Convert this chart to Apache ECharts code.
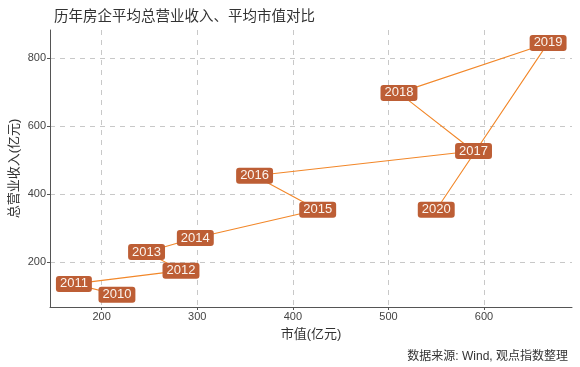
<!DOCTYPE html>
<html>
<head>
<meta charset="utf-8">
<script src="https://cdn.jsdelivr.net/npm/echarts@6/dist/echarts.min.js"></script>
<style>html,body{margin:0;padding:0;background:#fff;}#c{width:580px;height:367px;}</style>
</head>
<body>
<div id="c"></div>
<script>
var years = ['2010','2011','2012','2013','2014','2015','2016','2017','2018','2019','2020'];
var marketCap = [216, 171, 283, 247, 298, 426, 360, 589, 511, 667, 550];
var revenue = [103, 135, 174, 229, 270, 353, 453, 526, 697, 844, 353];
var xTicks = [200, 300, 400, 500, 600];
var yTicks = [200, 400, 600, 800];

var pts = years.map(function (y, i) { return [marketCap[i], revenue[i], y]; });
var chart = echarts.init(document.getElementById('c'));
var font = '"Liberation Sans", "Noto Sans CJK SC", sans-serif';
chart.setOption({
  animation: false,
  textStyle: { fontFamily: font },
  title: [{
    text: '历年房企平均总营业收入、平均市值对比',
    left: 49, top: 5,
    textStyle: { fontSize: 14.5, fontWeight: 'normal', color: '#333', fontFamily: font }
  }, {
    text: '数据来源: Wind, 观点指数整理',
    right: 7, top: 346,
    textStyle: { fontSize: 12, fontWeight: 'normal', color: '#333', fontFamily: font }
  }],
  grid: { left: 50, right: 8, top: 30, bottom: 60, containLabel: false, outerBoundsMode: 'none' },
  xAxis: {
    type: 'value', min: 146, max: 692,
    name: '市值(亿元)', nameLocation: 'middle', nameGap: 21, nameMoveOverlap: false,
    nameTextStyle: { fontSize: 13, color: '#333' },
    axisLine: { show: true, lineStyle: { color: '#555', width: 1 } },
    axisTick: { show: true, length: 3, customValues: xTicks, lineStyle: { color: '#555' } },
    axisLabel: { customValues: xTicks, fontSize: 11, color: '#444', margin: 4 },
    splitLine: { show: true, lineStyle: { color: '#c8c8c8', type: [5, 5], width: 1 } }
  },
  yAxis: {
    type: 'value', min: 67, max: 882,
    name: '总营业收入(亿元)', nameLocation: 'middle', nameGap: 29, nameMoveOverlap: false,
    nameTextStyle: { fontSize: 13, color: '#333' },
    axisLine: { show: true, lineStyle: { color: '#555', width: 1 } },
    axisTick: { show: true, length: 3, customValues: yTicks, lineStyle: { color: '#555' } },
    axisLabel: { customValues: yTicks, fontSize: 11, color: '#444', margin: 4 },
    splitLine: { show: true, lineStyle: { color: '#c8c8c8', type: [5, 5], width: 1 } }
  },
  series: [{
    type: 'line',
    data: pts,
    symbol: 'none',
    lineStyle: { color: '#F28729', width: 1.1 },
    z: 2
  }, {
    type: 'scatter',
    data: pts,
    symbolSize: 0,
    itemStyle: { opacity: 1 },
    z: 3,
    label: {
      show: true, position: 'inside',
      formatter: function (p) { return p.data[2]; },
      backgroundColor: '#BD5E35', color: '#fbf4ee',
      fontSize: 13, padding: [2, 4, 1, 4], borderRadius: 3
    }
  }]
});
</script>
</body>
</html>
